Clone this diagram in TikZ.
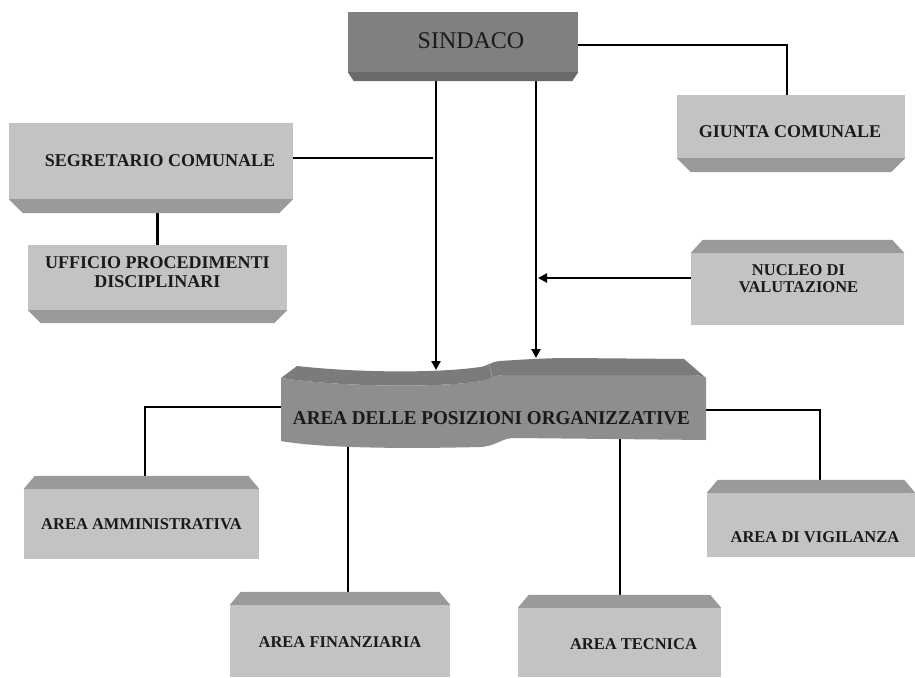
\documentclass[tikz,border=0pt]{standalone}
\usepackage{graphicx}
\usepackage{fontspec}
\setmainfont{Liberation Serif}
\usetikzlibrary{arrows.meta,backgrounds,calc}

\definecolor{facegray}{HTML}{C3C3C3}
\definecolor{bevelgray}{HTML}{9A9A9A}
\definecolor{sindface}{HTML}{808080}
\definecolor{sindbevel}{HTML}{6A6A6A}
\definecolor{waveface}{HTML}{8E8E8E}
\definecolor{wavetop}{HTML}{7B7B7B}
\definecolor{txtdark}{HTML}{1A1A1A}

\tikzset{
  boxface/.style={draw=none, fill=facegray, rectangle, inner sep=0pt},
  bevelfill/.style={fill=bevelgray},
  lbl/.style={font=\bfseries\fontsize{18}{18.5}\selectfont, text=txtdark, align=center, inner sep=0pt},
  lbls/.style={font=\bfseries\fontsize{16.5}{17}\selectfont, text=txtdark, align=center, inner sep=0pt},
  conn/.style={line width=2.2pt, black},
  arr/.style={conn, -{Triangle[length=9pt,width=9pt]}},
}

% bevels: [fill] node, height, inset
\newcommand\botbevel[4][bevelfill]{%
  \fill[#1] (#2.south west) -- (#2.south east) -- ([xshift=-#4,yshift=-#3]#2.south east) -- ([xshift=#4,yshift=-#3]#2.south west) -- cycle;}
\newcommand\topbevel[4][bevelfill]{%
  \fill[#1] (#2.north west) -- (#2.north east) -- ([xshift=-#4,yshift=#3]#2.north east) -- ([xshift=#4,yshift=#3]#2.north west) -- cycle;}

\begin{document}
\begin{tikzpicture}[x=1pt,y=-1pt]
\useasboundingbox (0,0) rectangle (915,677);

% ---------- boxes ----------
\node[boxface, fill=sindface, minimum width=230, minimum height=60] (sindaco) at (463,42) {};
\botbevel[fill=sindbevel]{sindaco}{9}{6}
\node[font=\fontsize{24}{24}\selectfont, text=txtdark, inner sep=0pt] (tsindaco) at (471,41) {SINDACO};

\node[boxface, minimum width=228, minimum height=63] (giunta) at (791,126.5) {};
\botbevel{giunta}{14}{14}
\node[lbl] (tgiunta) at (790,132) {GIUNTA COMUNALE};

\node[boxface, minimum width=284, minimum height=76] (segretario) at (151,161) {};
\botbevel{segretario}{14}{14}
\node[lbl] (tsegretario) at (160,161) {SEGRETARIO COMUNALE};

\node[boxface, minimum width=259, minimum height=65] (ufficio) at (157.5,277.5) {};
\botbevel{ufficio}{13}{13}
\node[lbl] (tufficio) at (157.5,272) {UFFICIO PROCEDIMENTI\\DISCIPLINARI};

\node[boxface, minimum width=213, minimum height=72] (nucleo) at (797.5,289) {};
\topbevel{nucleo}{13}{12}
\node[lbls] (tnucleo) at (798.5,279) {NUCLEO DI\\VALUTAZIONE};

\node[boxface, minimum width=235, minimum height=70] (amm) at (141.5,524) {};
\topbevel{amm}{13}{11}
\node[lbls] (tamm) at (141.5,524) {AREA AMMINISTRATIVA};

\node[boxface, minimum width=220, minimum height=72] (fin) at (340,641) {};
\topbevel{fin}{13}{11}
\node[lbls] (tfin) at (340,642.5) {AREA FINANZIARIA};

\node[boxface, minimum width=203, minimum height=69] (tec) at (619.5,642.5) {};
\topbevel{tec}{13}{11}
\node[lbls] (ttec) at (633.5,644) {AREA TECNICA};

\node[boxface, minimum width=208, minimum height=64] (vig) at (811,525) {};
\topbevel{vig}{13}{11}
\node[lbls] (tvig) at (815,537.5) {AREA DI VIGILANZA};

% ---------- wavy banner ----------
\fill[waveface] (281,378) .. controls (340,387) and (440,388) .. (482,381)
  .. controls (490,380) and (492,376) .. (503,375) -- (690,375)
  .. controls (698,375) and (704,376) .. (706,378) -- (706,440)
  -- (515,438) .. controls (500,438) and (498,446) .. (480,447)
  .. controls (400,449) and (320,448) .. (281,441) -- cycle;
\fill[wavetop] (281,378) -- (297,366) .. controls (360,373) and (440,373) .. (480,367)
  .. controls (488,366) and (490,362) .. (500,361)
  .. controls (530,359) and (550,358) .. (570,358) -- (684,359) -- (706,378)
  .. controls (704,376) and (698,375) .. (690,375) -- (503,375)
  .. controls (492,376) and (490,380) .. (482,381)
  .. controls (440,388) and (340,387) .. (281,378) -- cycle;
\draw[wavetop!75!white, line width=0.8pt] (489,364) .. controls (491,369) and (492,374) .. (492,379);
\node[font=\bfseries, text=txtdark, inner sep=0pt] (apo) at (491.5,418.5)
  {\resizebox{397pt}{13pt}{AREA DELLE POSIZIONI ORGANIZZATIVE}};

\coordinate (apoTopL) at (436,370);
\coordinate (apoTopR) at (536,358);
\coordinate (apoL) at (283,407);
\coordinate (apoR) at (702,410);
\coordinate (apoB1) at (348,440);
\coordinate (apoB2) at (620,432);
\coordinate (j1) at (433,158);
\coordinate (j2) at (538,278);

% ---------- connectors ----------
\begin{scope}[on background layer]
\draw[conn] (sindaco.east |- 0,45) -| (giunta.north -| 787,0);
\draw[arr] (sindaco.south -| apoTopL) -- (apoTopL);
\draw[arr] (sindaco.south -| apoTopR) -- (apoTopR);
\draw[conn] (segretario.east |- j1) -- (j1);
\draw[conn] (segretario.south -| ufficio.north) -- (ufficio.north);
\draw[conn] (apoL) -| (amm.north -| 145,0);
\draw[conn] (apoR) -| (vig.north -| 820,0);
\draw[conn] (apoB1) -- (apoB1 |- fin.north);
\draw[conn] (apoB2) -- (apoB2 |- tec.north);
\end{scope}
\draw[arr] (nucleo.west |- j2) -- (j2);
\end{tikzpicture}
\end{document}
